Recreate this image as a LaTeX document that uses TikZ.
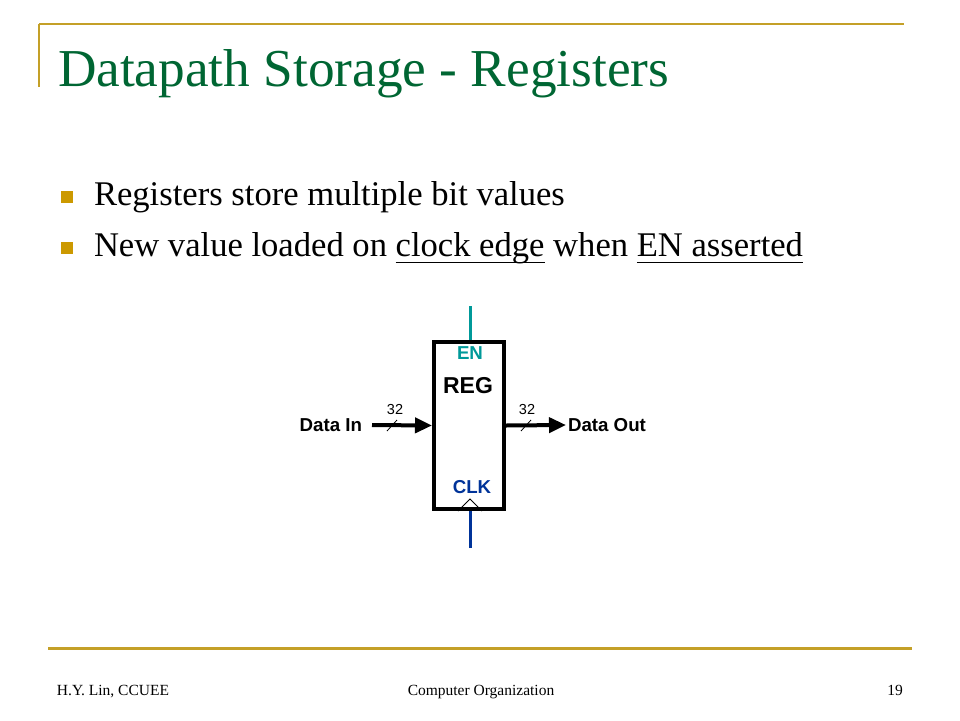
\documentclass[tikz,border=0pt]{standalone}
\usepackage{fontspec}
\setmainfont{Liberation Serif}
\newfontfamily\arialf{Liberation Sans}
\usetikzlibrary{arrows.meta}
\definecolor{titlegreen}{RGB}{0,102,51}
\definecolor{gold}{RGB}{204,153,0}
\definecolor{goldline}{RGB}{196,160,40}
\definecolor{enteal}{RGB}{0,153,153}
\definecolor{clkblue}{RGB}{0,51,153}
\newcommand\myul[1]{\leavevmode\setbox0\hbox{#1}\rlap{\rule[-7pt]{\wd0}{1.3pt}}\box0\relax}
\tikzset{
  txt/.style={inner sep=0pt, outer sep=0pt},
  bullettxt/.style={txt, anchor=base west, font=\fontsize{34.6}{40}\selectfont},
  bulletsq/.style={fill=gold, draw=none, minimum size=12pt, inner sep=0pt},
  foot/.style={txt, anchor=base, font=\fontsize{15.5}{17}\selectfont},
  diag/.style={txt, font=\arialf\bfseries\fontsize{18.7}{20}\selectfont},
  buswidth/.style={txt, font=\arialf\fontsize{14.5}{16}\selectfont},
  bus/.style={line width=4pt, -{Triangle[length=17pt,width=15pt]}},
  slash/.style={line width=0.8pt},
}
\begin{document}
\begin{tikzpicture}[x=1pt,y=-1pt]
\useasboundingbox (0,0) rectangle (960,720);
% frame lines
\draw[goldline, line width=2pt] (39,24) -- (904,24);
\draw[goldline, line width=1.3pt] (39,24) -- (39,87);
\draw[goldline, line width=3pt] (48,648) -- (912,648);
% title
\node[txt, anchor=base west, text=titlegreen, font=\fontsize{53.3}{60}\selectfont] (title) at (58,86) {Datapath Storage - Registers};
% bullets
\node[bulletsq] (b1) at (67,197) {};
\node[bulletsq] (b2) at (67,248) {};
\node[bullettxt] (t1) at (94,205) {Registers store multiple bit values};
\node[bullettxt] (t2) at (94,256) {New value loaded on \myul{clock edge} when \myul{EN asserted}};
% register
\node[draw, line width=4pt, minimum width=70pt, minimum height=167pt, inner sep=0pt] (reg) at (469,425.5) {};
\node[diag, text=enteal] (en) at (470,353) {EN};
\node[diag, font=\arialf\bfseries\fontsize{23}{24}\selectfont] (regl) at (468,386) {REG};
\node[diag, text=clkblue] (clk) at (472,487) {CLK};
\coordinate (entop) at (470,306);
\coordinate (clkbot) at (470,548);
\draw[enteal, line width=3pt] (entop) -- (reg.north -| entop);
\draw[clkblue, line width=3pt] (clkbot) -- (reg.south -| clkbot);
\draw[line width=0.8pt] ([xshift=-12pt]reg.south -| clkbot) -- ([yshift=12pt]reg.south -| clkbot) -- ([xshift=12pt]reg.south -| clkbot);
% data in / out
\node[diag, anchor=east] (din) at (362,425) {Data In};
\node[diag, anchor=west] (dout) at (568,425) {Data Out};
\draw[bus] ([xshift=10pt]din.east) -- (reg.west);
\draw[bus] (reg.east) -- ([xshift=-2pt]dout.west);
\draw[slash] (387,431) -- (397,420);
\draw[slash] (521,431) -- (531,420);
\node[buswidth] (w1) at (395,410) {32};
\node[buswidth] (w2) at (527,410) {32};
% footer
\node[foot] (f1) at (113,695) {H.Y. Lin, CCUEE};
\node[foot] (f2) at (481,695) {Computer Organization};
\node[foot] (f3) at (895,695) {19};
\end{tikzpicture}
\end{document}
